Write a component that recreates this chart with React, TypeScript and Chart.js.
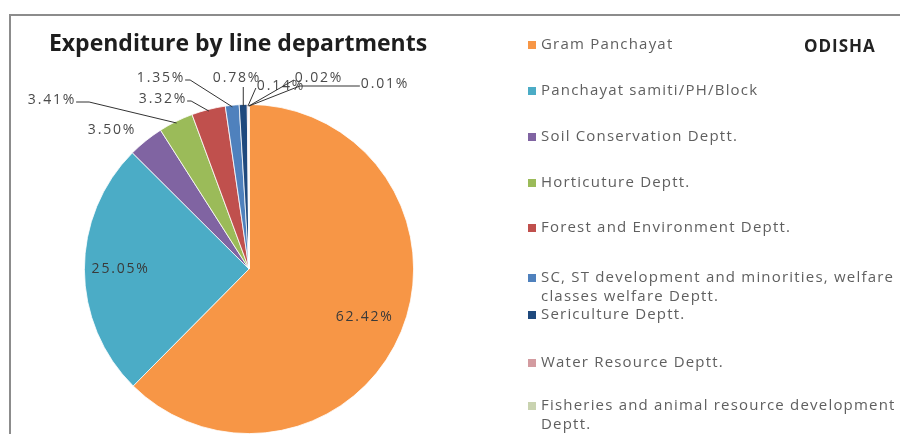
import React, { useEffect, useRef } from "react";
import { Chart, registerables } from "chart.js";

Chart.register(...registerables);

// ---------- data ----------
const categories: string[] = [
  "Gram Panchayat",
  "Panchayat samiti/PH/Block",
  "Soil Conservation Deptt.",
  "Horticuture Deptt.",
  "Forest and Environment Deptt.",
  "SC, ST development and minorities, welfare classes welfare Deptt.",
  "Sericulture Deptt.",
  "Water Resource Deptt.",
  "Fisheries and animal resource development Deptt.",
  "Other Deptts.",
];
const shares: number[] = [62.42, 25.05, 3.5, 3.41, 3.32, 1.35, 0.78, 0.14, 0.02, 0.01];
const shareLabels: string[] = ["62.42%", "25.05%", "3.50%", "3.41%", "3.32%", "1.35%", "0.78%", "0.14%", "0.02%", "0.01%"];
const sliceColors: string[] = [
  "#F79646",
  "#4BACC6",
  "#8064A2",
  "#9BBB59",
  "#C0504D",
  "#4F81BD",
  "#1F497D",
  "#D39BA0",
  "#C9D3B0",
  "#B3A2C7",
];
const chartTitle = "Expenditure by line departments";
const stateName = "ODISHA";

// ---------- layout (styles / positions only) ----------
type LabelCfg =
  | { mode: "in"; f: number }
  | { mode: "out"; dx: number; dy: number; leader: "none" | "side" | "vertical"; elbow?: number };

const labelLayout: LabelCfg[] = [
  { mode: "in", f: 0.76 },
  { mode: "in", f: 0.78 },
  { mode: "out", dx: -137, dy: -139, leader: "none" },
  { mode: "out", dx: -197, dy: -169, leader: "side", elbow: 13 },
  { mode: "out", dx: -86, dy: -170, leader: "side", elbow: 4 },
  { mode: "out", dx: -88, dy: -191, leader: "side", elbow: 5 },
  { mode: "out", dx: -12, dy: -191, leader: "vertical" },
  { mode: "out", dx: 32, dy: -183, leader: "side", elbow: 0 },
  { mode: "out", dx: 70, dy: -191, leader: "side", elbow: 0 },
  { mode: "out", dx: 136, dy: -185, leader: "side", elbow: 60 },
];

const legendRowY = [45, 91, 137, 183, 228, 278, 315, 363, 406, 470];

const framePlugin = {
  id: "frame",
  beforeDraw(chart: any) {
    const ctx = chart.ctx as CanvasRenderingContext2D;
    ctx.save();
    ctx.fillStyle = "#ffffff";
    ctx.fillRect(0, 0, chart.width, chart.height);
    ctx.strokeStyle = "#8c8c8c";
    ctx.lineWidth = 2;
    ctx.beginPath();
    ctx.moveTo(10, chart.height + 2);
    ctx.lineTo(10, 15);
    ctx.lineTo(chart.width + 2, 15);
    ctx.stroke();

    // title
    ctx.fillStyle = "#1e1e1e";
    ctx.font = "bold 23px 'Open Sans'";
    ctx.textAlign = "center";
    ctx.textBaseline = "middle";
    ctx.fillText(chartTitle, 238, 44);

    // state name
    ctx.font = "bold 17px 'Open Sans'";
    (ctx as any).letterSpacing = "1px";
    ctx.textAlign = "left";
    ctx.fillStyle = "#222222";
    ctx.fillText(stateName, 804, 47);
    ctx.restore();
  },
};

const legendPlugin = {
  id: "customLegend",
  afterDraw(chart: any) {
    const ctx = chart.ctx as CanvasRenderingContext2D;
    ctx.save();
    ctx.font = "15px 'Open Sans'";
    (ctx as any).letterSpacing = "1.2px";
    ctx.textBaseline = "middle";
    ctx.textAlign = "left";
    const textX = 541;
    const maxW = 364;
    categories.forEach((name, i) => {
      const y = legendRowY[i];
      ctx.fillStyle = sliceColors[i];
      ctx.fillRect(528, y - 4, 8, 8);
      // wrap
      const words = name.split(" ");
      const lines: string[] = [];
      let cur = "";
      words.forEach((w) => {
        const test = cur ? cur + " " + w : w;
        if (ctx.measureText(test).width > maxW && cur) {
          lines.push(cur);
          cur = w;
        } else cur = test;
      });
      if (cur) lines.push(cur);
      ctx.fillStyle = "#5f5f5f";
      lines.forEach((ln, k) => ctx.fillText(ln, textX, y + k * 19));
    });
    ctx.restore();
  },
};

const labelPlugin = {
  id: "pieLabels",
  afterDatasetsDraw(chart: any) {
    const ctx = chart.ctx as CanvasRenderingContext2D;
    const meta = chart.getDatasetMeta(0);
    ctx.save();
    ctx.font = "14px 'Open Sans'";
    (ctx as any).letterSpacing = "1.8px";
    ctx.textBaseline = "middle";
    ctx.textAlign = "center";
    meta.data.forEach((arc: any, i: number) => {
      const p = arc.getProps(["x", "y", "startAngle", "endAngle", "outerRadius"], true);
      const mid = (p.startAngle + p.endAngle) / 2;
      const cfg = labelLayout[i];
      const text = shareLabels[i];
      if (cfg.mode === "in") {
        const lx = p.x + Math.cos(mid) * p.outerRadius * cfg.f;
        const ly = p.y + Math.sin(mid) * p.outerRadius * cfg.f;
        ctx.fillStyle = "#3a3a3a";
        ctx.fillText(text, lx, ly);
        return;
      }
      const lx = p.x + cfg.dx;
      const ly = p.y + cfg.dy;
      const ex = p.x + Math.cos(mid) * p.outerRadius * 0.99;
      const ey = p.y + Math.sin(mid) * p.outerRadius * 0.99;
      const w = ctx.measureText(text).width;
      ctx.strokeStyle = "#333333";
      ctx.lineWidth = 1;
      if (cfg.leader === "side") {
        const right = lx < ex;
        const sx = right ? lx + w / 2 : lx - w / 2 - 1;
        const sy = ly + 2;
        const bx = sx + (right ? 1 : -1) * (cfg.elbow || 0);
        ctx.beginPath();
        ctx.moveTo(sx, sy);
        ctx.lineTo(bx, sy);
        ctx.lineTo(ex, ey);
        ctx.stroke();
      } else if (cfg.leader === "vertical") {
        ctx.beginPath();
        ctx.moveTo(ex, ly + 9);
        ctx.lineTo(ex, ey);
        ctx.stroke();
      }
      ctx.fillStyle = "#4a4a4a";
      ctx.fillText(text, lx, ly);
    });
    ctx.restore();
  },
};

export default function App() {
  const ref = useRef<HTMLCanvasElement>(null);
  useEffect(() => {
    const canvas = ref.current;
    if (!canvas) return;
    const chart = new Chart(canvas, {
      type: "pie",
      data: {
        labels: categories,
        datasets: [
          {
            data: shares,
            backgroundColor: sliceColors,
            borderColor: "#ffffff",
            borderWidth: 0.8,
          },
        ],
      },
      options: {
        responsive: false,
        animation: false,
        layout: { padding: { left: 83, right: 485, top: 104, bottom: 0 } },
        plugins: {
          legend: { display: false },
          tooltip: { enabled: false },
          title: { display: false },
        },
      },
      plugins: [framePlugin, labelPlugin, legendPlugin],
    } as any);
    return () => chart.destroy();
  }, []);
  return (
    <div style={{ position: "fixed", left: 0, top: 0, width: 900, height: 434, background: "#fff" }}>
      <canvas ref={ref} width={900} height={434} style={{ display: "block", width: 900, height: 434 }} />
    </div>
  );
}
